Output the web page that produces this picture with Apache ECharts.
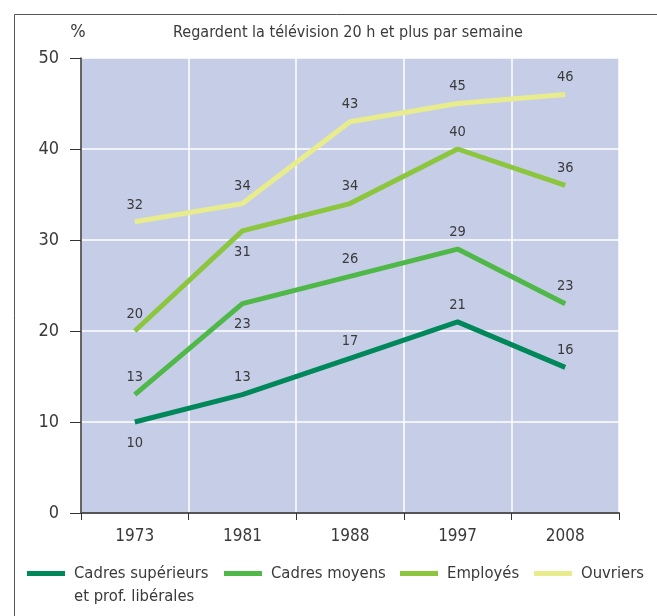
<!DOCTYPE html>
<html>
<head>
<meta charset="utf-8">
<script src="https://cdn.jsdelivr.net/npm/echarts@6/dist/echarts.min.js"></script>
<style>
  html, body { margin: 0; padding: 0; background: #fff; }
  #main { width: 657px; height: 616px; }
</style>
</head>
<body>
<div id="main"></div>
<script>
var years = ['1973', '1981', '1988', '1997', '2008'];
var cadresSup = [10, 13, 17, 21, 16];
var cadresMoyens = [13, 23, 26, 29, 23];
var employes = [20, 31, 34, 40, 36];
var ouvriers = [32, 34, 43, 45, 46];

// labels drawn under the point instead of above
var belowSup = [0];
var belowMoyens = [1];
var belowEmployes = [1];

// leading blank line keeps the first text line level with the legend swatch
var supName = '\nCadres supérieurs\net prof. libérales';

var font = '"DejaVu Sans Condensed", "Liberation Sans Narrow", sans-serif';
var txt = '#3a3a3a';

function withLabels(values, below) {
    return values.map(function (v, i) {
        var under = below.indexOf(i) >= 0;
        return {
            value: v,
            label: { position: under ? 'bottom' : 'top', distance: under ? 13 : 9 }
        };
    });
}

function lineSeries(name, values, below, color) {
    return {
        name: name,
        type: 'line',
        data: withLabels(values, below),
        symbol: 'circle',
        symbolSize: 1,
        showSymbol: true,
        itemStyle: { color: 'rgba(0,0,0,0)', borderWidth: 0 },
        lineStyle: { color: color, width: 5 },
        label: {
            show: true,
            color: txt,
            fontFamily: font,
            fontSize: 14.5
        },
        emphasis: { disabled: true },
        animation: false
    };
}

function legendFor(name, color, left, top) {
    return {
        data: [{ name: name, itemStyle: { color: color, opacity: 1, borderWidth: 0 } }],
        left: left,
        top: top,
        icon: 'rect',
        itemWidth: 38,
        itemHeight: 5,
        itemGap: 0,
        padding: 0,
        selectedMode: false,
        textStyle: { color: txt, fontFamily: font, fontSize: 16.5, lineHeight: 23, padding: [0, 0, 0, 4] }
    };
}

var chart = echarts.init(document.getElementById('main'));

chart.setOption({
    backgroundColor: '#fff',
    title: {
        text: 'Regardent la télévision 20 h et plus par semaine',
        left: 348,
        textAlign: 'center',
        top: 25,
        padding: 0,
        textStyle: { color: txt, fontFamily: font, fontSize: 16, fontWeight: 'normal' }
    },
    legend: [
        legendFor(supName, '#00875a', 27, 539),
        legendFor('Cadres moyens', '#4fb848', 224, 562),
        legendFor('Employés', '#8cc63f', 400, 562),
        legendFor('Ouvriers', '#e8ec8c', 534, 562)
    ],
    graphic: [{
        type: 'rect',
        left: 12,
        top: 12,
        shape: { width: 700, height: 700 },
        style: { fill: 'none', stroke: '#555', lineWidth: 1 },
        silent: true
    }],
    grid: {
        left: 81,
        right: 38,
        top: 58,
        bottom: 103,
        show: true,
        backgroundColor: '#c6cee7',
        borderWidth: 0
    },
    xAxis: {
        type: 'category',
        data: years,
        boundaryGap: true,
        axisLine: { show: true, lineStyle: { color: '#555', width: 2 } },
        axisTick: { show: true, length: 7, lineStyle: { color: '#333', width: 1 } },
        axisLabel: { color: txt, fontFamily: font, fontSize: 17, margin: 15 },
        splitLine: { show: true, lineStyle: { color: '#fff', width: 1.5 } }
    },
    yAxis: {
        type: 'value',
        min: 0,
        max: 50,
        interval: 10,
        name: '%',
        nameLocation: 'end',
        nameGap: 17,
        nameTextStyle: { color: txt, fontFamily: font, fontSize: 18, align: 'center', padding: [0, 6, 0, 0] },
        axisLine: { show: true, lineStyle: { color: '#333', width: 1.5 } },
        axisTick: { show: true, inside: false, length: 11, lineStyle: { color: '#333', width: 1 } },
        axisLabel: { color: txt, fontFamily: font, fontSize: 18, margin: 22 },
        splitLine: { show: true, lineStyle: { color: '#fff', width: 1.5 } }
    },
    series: [
        lineSeries('Ouvriers', ouvriers, [], '#e8ec8c'),
        lineSeries('Employés', employes, belowEmployes, '#8cc63f'),
        lineSeries('Cadres moyens', cadresMoyens, belowMoyens, '#4fb848'),
        lineSeries(supName, cadresSup, belowSup, '#00875a')
    ]
});
</script>
</body>
</html>
